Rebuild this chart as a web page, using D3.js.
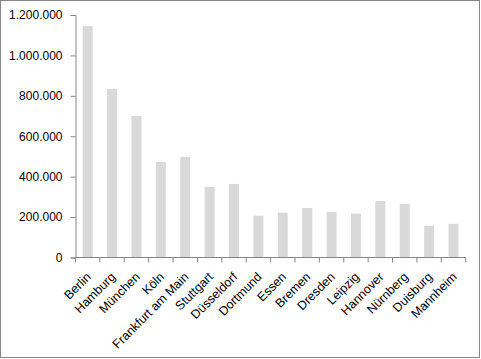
<!DOCTYPE html>
<html>
<head>
<meta charset="utf-8">
<script src="https://cdn.jsdelivr.net/npm/d3@7/dist/d3.min.js"></script>
<style>
  body { margin: 0; background: #fff; }
  svg text { font-family: "Liberation Sans", Arial, sans-serif; fill: #000; }
  .ylab { font-size: 12px; }
  .xlab { font-size: 12.5px; }
</style>
</head>
<body>
<svg id="chart" width="481" height="359"></svg>
<script>
// cities and population values
const cities = ["Berlin", "Hamburg", "München", "Köln", "Frankfurt am Main", "Stuttgart", "Düsseldorf",
  "Dortmund", "Essen", "Bremen", "Dresden", "Leipzig", "Hannover", "Nürnberg", "Duisburg", "Mannheim"];
const population = [1145000, 834000, 700000, 473000, 497000, 350000, 364000,
  207000, 222000, 245000, 225000, 217000, 280000, 265000, 157000, 167000];
const yTicks = [0, 200000, 400000, 600000, 800000, 1000000, 1200000];

const svg = d3.select("#chart");

// outer frame
svg.append("rect")
  .attr("x", 0.5).attr("y", 0.5)
  .attr("width", 479).attr("height", 357)
  .attr("fill", "#fff").attr("stroke", "#868686");

const plotLeft = 75.5, plotRight = 465.7, plotTop = 15, plotBottom = 257.5;

const x = d3.scaleBand().domain(cities).range([plotLeft, plotRight]).paddingInner(0.59).paddingOuter(0.295);
const y = d3.scaleLinear().domain([0, 1200000]).range([plotBottom, plotTop]);

const fmt = d3.formatLocale({ decimal: ",", thousands: ".", grouping: [3], currency: ["", "€"] }).format(",d");

// bars
svg.append("g").selectAll("rect")
  .data(cities)
  .join("rect")
  .attr("x", d => x(d))
  .attr("width", x.bandwidth())
  .attr("y", (d, i) => y(population[i]))
  .attr("height", (d, i) => plotBottom - y(population[i]))
  .attr("fill", "#d9d9d9");

// y axis
const yAxis = svg.append("g")
  .attr("transform", `translate(${plotLeft},0)`)
  .call(d3.axisLeft(y).tickValues(yTicks).tickFormat(fmt).tickSize(5).tickPadding(8));
yAxis.select(".domain").attr("stroke", "#868686");
yAxis.selectAll(".tick line").attr("stroke", "#868686");
yAxis.selectAll("text").attr("class", "ylab").attr("fill", "#000").attr("font-size", null).attr("font-family", null);

// x axis with ticks at category boundaries
const step = (plotRight - plotLeft) / cities.length;
const xg = svg.append("g");
xg.append("line")
  .attr("x1", plotLeft).attr("x2", plotRight)
  .attr("y1", plotBottom).attr("y2", plotBottom)
  .attr("stroke", "#868686");
xg.selectAll(".bt")
  .data(d3.range(cities.length + 1))
  .join("line")
  .attr("x1", i => plotLeft + i * step).attr("x2", i => plotLeft + i * step)
  .attr("y1", plotBottom).attr("y2", plotBottom + 5)
  .attr("stroke", "#868686");
xg.selectAll(".xlab")
  .data(cities)
  .join("text")
  .attr("class", "xlab")
  .attr("text-anchor", "end")
  .attr("transform", d => `translate(${x(d) + x.bandwidth() / 2 + 1},${plotBottom + 17}) rotate(-45)`)
  .attr("dy", "0.35em")
  .text(d => d);
</script>
</body>
</html>
